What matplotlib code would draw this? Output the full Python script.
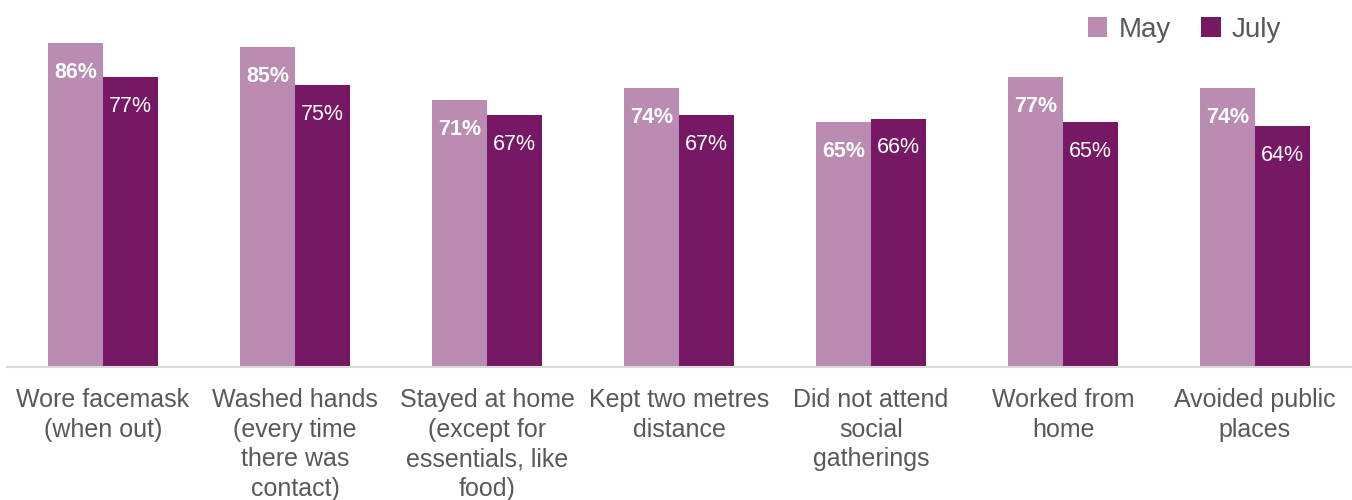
import numpy as np
import matplotlib.pyplot as plt

plt.rcParams['font.family'] = ['Liberation Sans', 'DejaVu Sans']

categories = [
    "Wore facemask\n(when out)",
    "Washed hands\n(every time\nthere was\ncontact)",
    "Stayed at home\n(except for\nessentials, like\nfood)",
    "Kept two metres\ndistance",
    "Did not attend\nsocial\ngatherings",
    "Worked from\nhome",
    "Avoided public\nplaces",
]
may = [86, 85, 71, 74, 65, 77, 74]
july = [77, 75, 67, 67, 66, 65, 64]

may_color = "#ba8cb2"
july_color = "#761863"
text_color = "#595959"

fig = plt.figure(figsize=(13.52, 5.0), dpi=100)
ax = fig.add_axes([7 / 1352, 133 / 500, 1344 / 1352, 367 / 500])

x = np.arange(len(categories))
w = 0.286
b1 = ax.bar(x - w / 2, may, w, color=may_color, label="May")
b2 = ax.bar(x + w / 2, july, w, color=july_color, label="July")

# value labels sit just inside the top of each bar
for rect, v in zip(b1, may):
    ax.text(rect.get_x() + rect.get_width() / 2, v - 5.0, f"{v}%",
            ha="center", va="top", color="white", fontsize=15.5, fontweight="bold")
for rect, v in zip(b2, july):
    ax.text(rect.get_x() + rect.get_width() / 2, v - 5.0, f"{v}%",
            ha="center", va="top", color="white", fontsize=15.5)

ax.set_xlim(-0.5, len(categories) - 0.5)
ax.set_ylim(0, 97.5)
ax.set_yticks([])
ax.set_xticks(x)
ax.set_xticklabels(categories, fontsize=18, color=text_color, linespacing=1.3)
ax.tick_params(axis="x", length=0, pad=15)
for side in ["top", "right", "left"]:
    ax.spines[side].set_visible(False)
ax.spines["bottom"].set_color("#d9d9d9")
ax.spines["bottom"].set_linewidth(1.5)

leg = ax.legend(loc="upper right", bbox_to_anchor=(1291 / 1344, 1.0), ncol=2,
                frameon=False, fontsize=20, handlelength=0.7, handleheight=0.7,
                handletextpad=0.4, columnspacing=1.1, borderaxespad=0.2)
for t in leg.get_texts():
    t.set_color(text_color)

fig.savefig("out.png", dpi=100)
